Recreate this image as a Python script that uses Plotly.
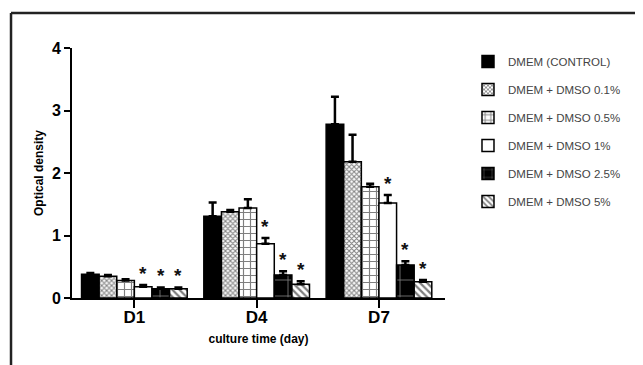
import plotly.graph_objects as go

categories = ["D1", "D4", "D7"]
series = ["DMEM (CONTROL)", "DMEM + DMSO 0.1%", "DMEM + DMSO 0.5%",
          "DMEM + DMSO 1%", "DMEM + DMSO 2.5%", "DMEM + DMSO 5%"]
values = [
    [0.38, 1.31, 2.78],
    [0.35, 1.38, 2.18],
    [0.28, 1.44, 1.78],
    [0.18, 0.87, 1.52],
    [0.15, 0.37, 0.53],
    [0.15, 0.22, 0.26],
]
errors = [
    [0.02, 0.22, 0.44],
    [0.02, 0.03, 0.43],
    [0.02, 0.14, 0.05],
    [0.03, 0.09, 0.13],
    [0.02, 0.06, 0.06],
    [0.02, 0.05, 0.03],
]
significant = [
    [0, 0, 0],
    [0, 0, 0],
    [0, 0, 0],
    [1, 1, 1],
    [1, 1, 1],
    [1, 1, 1],
]
y_ticks = [0, 1, 2, 3, 4]

styles = [
    dict(color="black", pattern=dict(shape="")),
    dict(color="white", pattern=dict(shape="x", fgcolor="black", bgcolor="white", size=3.5, solidity=0.5)),
    dict(color="white", pattern=dict(shape="+", fgcolor="black", bgcolor="white", size=7, solidity=0.3)),
    dict(color="white", pattern=dict(shape="")),
    dict(color="black", pattern=dict(shape="+", fgcolor="white", bgcolor="black", size=16, solidity=0.1)),
    dict(color="white", pattern=dict(shape="\\", fgcolor="black", bgcolor="white", size=5, solidity=0.45)),
]

bar_w = 0.144
n = len(series)
fig = go.Figure()
annotations = []
for j, name in enumerate(series):
    xs = [i + (j - (n - 1) / 2) * bar_w for i in range(len(categories))]
    st = styles[j]
    fig.add_trace(go.Bar(
        x=xs, y=values[j], width=bar_w, name=name, legendgroup=name,
        marker=dict(color=st["color"], pattern=st["pattern"],
                    line=dict(color="black", width=1.5)),
        error_y=dict(type="data", symmetric=False, array=errors[j],
                     arrayminus=[0] * len(categories), color="black",
                     thickness=2.5, width=4),
    ))
    for i in range(len(categories)):
        if significant[j][i]:
            annotations.append(dict(
                x=xs[i], y=values[j][i] + errors[j][i], text="<b>*</b>",
                showarrow=False, yanchor="bottom", yshift=-1,
                font=dict(size=19, color="#111", family="Liberation Sans"),
            ))

border = dict(color="#222", width=2.5)
fig.update_layout(
    width=635, height=357,
    margin=dict(l=64, r=198, t=40, b=67, autoexpand=False),
    paper_bgcolor="white", plot_bgcolor="white",
    font=dict(family="Liberation Sans, Arial", color="black"),
    showlegend=True,
    legend=dict(xref="container", yref="container", x=0.7244, y=0.8908,
                xanchor="left", yanchor="top",
                font=dict(size=11.5, color="#444"), tracegroupgap=9,
                bgcolor="rgba(0,0,0,0)"),
    annotations=annotations,
    xaxis=dict(
        range=[-0.51, 2.54], tickmode="array",
        tickvals=list(range(len(categories))),
        ticktext=["<b>%s</b>" % c for c in categories],
        showline=True, linecolor="black", linewidth=2,
        ticks="outside", ticklen=8, tickwidth=1.5, tickcolor="black",
        tickfont=dict(size=17, family="Liberation Sans", color="black"),
        ticklabelstandoff=-5,
        showgrid=False, zeroline=False,
        title=dict(text="<b>culture time (day)</b>", font=dict(size=12), standoff=8),
    ),
    yaxis=dict(
        range=[0, 4], tickmode="array", tickvals=y_ticks,
        ticktext=["<b>%d</b>" % v for v in y_ticks],
        showline=True, linecolor="black", linewidth=2,
        ticks="outside", ticklen=6, tickwidth=1.5, tickcolor="black",
        tickfont=dict(size=16, family="Liberation Sans", color="black"),
        showgrid=False, zeroline=False,
        title=dict(text="<b>Optical density</b>", font=dict(size=12), standoff=6),
    ),
    shapes=[
        dict(type="line", xref="paper", yref="paper", x0=-0.1635, x1=1.525,
             y0=1.14, y1=1.14, line=border),
        dict(type="line", xref="paper", yref="paper", x0=-0.1635, x1=-0.1635,
             y0=-0.35, y1=1.14, line=border),
        dict(type="line", xref="paper", yref="paper", x0=1.52, x1=1.52,
             y0=-0.35, y1=1.14, line=border),
    ],
)

fig.write_html("out.html")
